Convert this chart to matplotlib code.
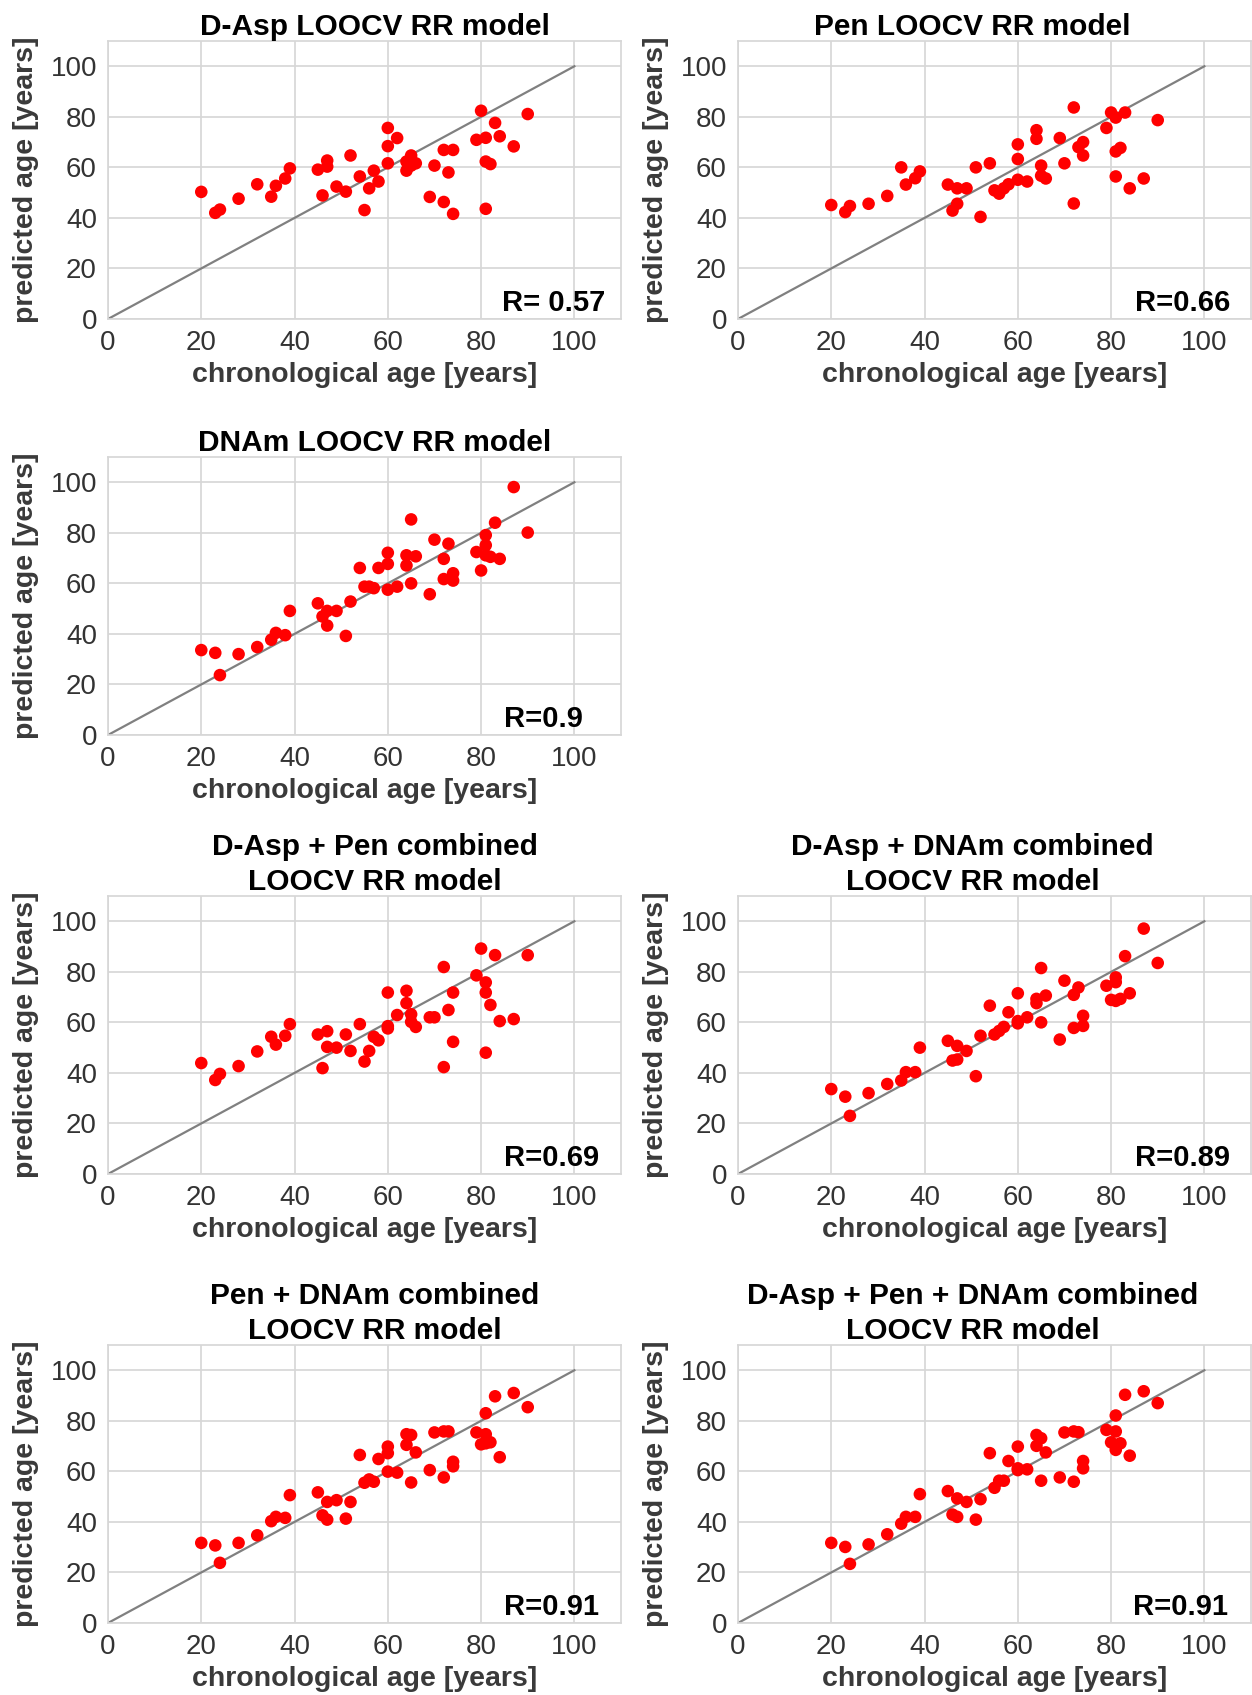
import matplotlib
matplotlib.use('Agg')
import matplotlib.pyplot as plt

plt.rcParams['font.family'] = ['Liberation Sans', 'DejaVu Sans']

ages = [20, 23, 24, 28, 32, 35, 36, 38, 39, 45, 46, 47, 47, 49, 51, 52, 54, 55, 56, 57, 58,
        60, 60, 60, 62, 64, 64, 65, 65, 66, 69, 70, 72, 72, 73, 74, 74,
        79, 80, 81, 81, 81, 82, 83, 84, 87, 90]

pred_dasp = [50.3, 42, 43.3, 47.6, 53.3, 48.4, 52.7, 55.6, 59.6, 59.1, 48.9, 62.7, 60.3, 52.4, 50.4,
             64.7, 56.4, 43.1, 51.7, 58.7, 54.4, 75.6, 68.4, 61.6, 71.6, 58.7, 62.3, 64.7, 60.7, 61.6,
             48.3, 60.7, 46.3, 66.9, 58, 66.9, 41.6, 70.9, 82.4, 43.6, 71.7, 62.3, 61.3, 77.6, 72.3,
             68.3, 81.1]
pred_pen = [45.1, 42.3, 44.7, 45.6, 48.7, 60, 53.2, 55.7, 58.4, 53.2, 42.9, 45.6, 51.7, 51.7, 60,
            40.4, 61.6, 50.9, 49.6, 51.7, 53.3, 69.1, 63.3, 55.1, 54.4, 74.7, 71.3, 60.7, 56.7, 55.6,
            71.6, 61.6, 83.7, 45.7, 68, 70, 64.7, 75.6, 81.7, 56.4, 79.7, 66.3, 67.7, 81.7, 51.7,
            55.6, 78.7]
pred_dnam = [33.6, 32.5, 23.7, 32, 34.8, 37.7, 40.4, 39.5, 49.1, 52.1, 46.9, 43.3, 49.1, 49.1, 39.2,
             52.8, 66.1, 58.7, 58.7, 58.1, 66.1, 72.1, 67.7, 57.5, 58.7, 71.1, 67.1, 85.3, 60, 70.7,
             55.7, 77.3, 69.7, 61.7, 75.7, 64, 61.1, 72.4, 65.1, 79.1, 75.1, 71.1, 70.5, 84, 69.7,
             98.1, 80.1]
pred_dasp_pen = [43.9, 37.2, 39.6, 42.7, 48.5, 54.3, 51.2, 54.7, 59.3, 55.2, 41.9, 56.5, 50.3, 50, 55.2,
                 48.7, 59.3, 44.5, 48.7, 54.3, 52.9, 71.8, 57.6, 58.5, 62.9, 72.5, 67.6, 60.2, 63.2, 58.2,
                 62, 62, 81.9, 42.3, 64.9, 71.8, 52.3, 78.6, 89.2, 48, 75.8, 71.8, 66.9, 86.6, 60.5,
                 61.3, 86.6]
pred_dasp_dnam = [33.6, 30.6, 23, 32, 35.6, 37, 40.3, 40.3, 50, 52.7, 44.9, 45.3, 50.7, 48.7, 38.7,
                  54.7, 66.6, 55.2, 56.6, 58.2, 64, 71.5, 59.6, 60.5, 62, 69.3, 67.6, 81.5, 60, 70.6,
                  53.2, 76.5, 70.9, 57.8, 73.8, 62.6, 58.6, 74.5, 68.9, 77.8, 75.9, 68.5, 69.3, 86.2, 71.5,
                  97.1, 83.5]
pred_pen_dnam = [31.7, 30.7, 23.8, 31.7, 34.7, 40.3, 42, 41.6, 50.6, 51.7, 42.6, 40.9, 47.9, 48.6, 41.3,
                 47.9, 66.5, 55.5, 56.8, 55.9, 64.9, 69.8, 67.2, 59.9, 59.5, 74.7, 70.5, 55.6, 74.4, 67.5,
                 60.5, 75.4, 75.8, 57.6, 75.8, 63.8, 62, 75.4, 70.7, 83, 74.7, 71.1, 71.5, 89.7, 65.6,
                 91, 85.4]
pred_all = [31.7, 30.1, 23.4, 31.1, 35.1, 39.3, 42, 42, 51, 52.2, 42.9, 42, 49.3, 47.9, 40.9,
            49, 67.2, 53.5, 56.3, 56.3, 64.1, 69.8, 61.2, 60.5, 60.8, 74.4, 70.1, 56.3, 73.1, 67.5,
            57.6, 75.4, 75.8, 55.9, 75.5, 64.1, 61.2, 76.4, 71.5, 82.1, 75.8, 68.5, 71.1, 90.3, 66.2,
            91.7, 87]

titles = ['D-Asp LOOCV RR model', 'Pen LOOCV RR model', 'DNAm LOOCV RR model',
          'D-Asp + Pen combined\nLOOCV RR model', 'D-Asp + DNAm combined\nLOOCV RR model',
          'Pen + DNAm combined\nLOOCV RR model', 'D-Asp + Pen + DNAm combined\nLOOCV RR model']
r_labels = ['R= 0.57', 'R=0.66', 'R=0.9', 'R=0.69', 'R=0.89', 'R=0.91', 'R=0.91']
series = [pred_dasp, pred_pen, pred_dnam, pred_dasp_pen, pred_dasp_dnam, pred_pen_dnam, pred_all]
ticks = [0, 20, 40, 60, 80, 100]

W, H = 1252, 1695
fig = plt.figure(figsize=(W / 100, H / 100), dpi=100)

# axes boxes in pixels: left, top
col_left = [108, 738]
col_title_x = [0.52, 0.457]
row_top = [41, 457, 896, 1345]
ax_w, ax_h = 513, 278
slots = [(0, 0), (1, 0), (0, 1), (0, 2), (1, 2), (0, 3), (1, 3)]
r_x = [0.97, 0.96, 0.925, 0.957, 0.96, 0.957, 0.955]
title_pad = [1, 1, 1, -3, -3, -3, 0]

grid_c = '#d6d6d6'
for i, (c, r) in enumerate(slots):
    left = col_left[c] / W
    bottom = (H - row_top[r] - ax_h) / H
    ax = fig.add_axes([left, bottom, ax_w / W, ax_h / H])
    ax.set_xlim(0, 110)
    ax.set_ylim(0, 110)
    ax.set_xticks(ticks)
    ax.set_yticks(ticks)
    ax.grid(True, color=grid_c, linewidth=1.2)
    ax.set_axisbelow(True)
    for s in ax.spines.values():
        s.set_color(grid_c)
        s.set_linewidth(1.2)
    ax.tick_params(length=0, labelsize=20, labelcolor='#333333', pad=8)
    ax.plot([0, 100], [0, 100], color='#808080', linewidth=1.6, zorder=2)
    ax.scatter(ages, series[i], s=82, color='#ff0000', edgecolors='none', zorder=3)
    ax.set_title(titles[i], fontsize=21.5, fontweight='bold', pad=title_pad[i],
                 linespacing=1.3, x=col_title_x[c])
    ax.set_xlabel('chronological age [years]', fontsize=20.5, fontweight='bold',
                  color='#3a3a3a', labelpad=4)
    ax.set_ylabel('predicted age [years]', fontsize=20.5, fontweight='bold',
                  color='#3a3a3a', labelpad=8)
    ax.text(r_x[i], 0.03, r_labels[i], transform=ax.transAxes, ha='right', va='baseline',
            fontsize=21, fontweight='bold', color='black')

fig.savefig('out.png', dpi=100)
